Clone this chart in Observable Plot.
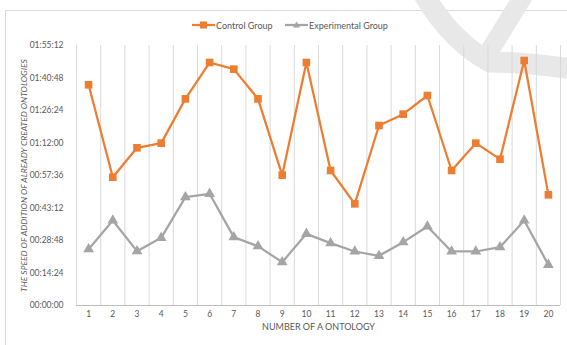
<!DOCTYPE html>
<html><head><meta charset="utf-8">
<script src="https://cdn.jsdelivr.net/npm/d3@7"></script>
<script src="https://cdn.jsdelivr.net/npm/@observablehq/plot@0.6"></script>
<style>
body{margin:0;background:#fff;}
#wrap{position:relative;width:567px;height:345px;overflow:hidden;font-family:Lato,sans-serif;}
#frame{position:absolute;left:5px;top:10px;width:700px;height:500px;border:1px solid #d9d9d9;box-sizing:border-box;}
#wm{position:absolute;left:0;top:0;}
#chart{position:absolute;left:0;top:0;}
.leg{position:absolute;top:19px;height:12px;display:flex;align-items:center;font-size:9px;color:#595959;white-space:nowrap;}
.leg svg{margin-right:1px;}
</style></head>
<body>
<div id="wrap">
  <div id="frame"></div>
  <svg id="wm" width="567" height="345">
    <g fill="none" stroke="#e8e8e8" stroke-linecap="butt">
      <path d="M424,-5 Q452,42 490,62 Q525,62 580,70" stroke-width="21"/>
      <path d="M524,-5 L484,60" stroke-width="19"/>
    </g>
  </svg>
  <div id="chart"></div>
  <div id="legend"></div>
</div>
<script>
// Categories: number of an ontology
const ontology = [1,2,3,4,5,6,7,8,9,10,11,12,13,14,15,16,17,18,19,20];
// Speed of addition (seconds)
const controlGroup = [5867,3411,4192,4316,5494,6460,6283,5494,3465,6460,3589,2703,4785,5087,5583,3589,4316,3890,6513,2942];
const experimentalGroup = [1498,2260,1445,1799,2880,2969,1817,1577,1152,1905,1657,1436,1320,1684,2100,1436,1436,1551,2260,1081];
// Y tick values (seconds) -> 00:00:00 ... 01:55:12
const yTicks = [0,864,1728,2592,3456,4320,5184,6048,6912];
const seriesNames = ["Control Group","Experimental Group"];
const yTitle = "THE SPEED OF ADDITION OF ALREADY CREATED ONTOLOGIES";
const xTitle = "NUMBER OF A ONTOLOGY";

const ORANGE = "#ed7d31", GRAY = "#a5a5a5", TXT = "#595959";
const pad = n => String(n).padStart(2,"0");
const fmt = s => `${pad(Math.floor(s/3600))}:${pad(Math.floor(s%3600/60))}:${pad(s%60)}`;

const rows = ontology.map((o,i)=>({o, c: controlGroup[i], e: experimentalGroup[i]}));
const bounds = d3.range(0.5, ontology.length + 1, 1);

const chart = Plot.plot({
  width: 567, height: 345,
  marginTop: 45, marginBottom: 40, marginLeft: 76, marginRight: 7,
  style: {background: "transparent", fontFamily: "Lato, sans-serif", overflow: "visible"},
  x: {type: "linear", domain: [0.5, ontology.length + 0.5], axis: null},
  y: {domain: [0, yTicks[yTicks.length-1]], axis: null},
  marks: [
    Plot.ruleX(bounds, {stroke: "#d9d9d9", strokeWidth: 1}),
    Plot.ruleY([0], {stroke: "#bfbfbf", strokeWidth: 1}),
    Plot.text(yTicks, {y: d=>d, frameAnchor: "left", dx: -13, textAnchor: "end", text: fmt, fill: TXT, fontSize: 8.5}),
    Plot.text(ontology, {x: d=>d, frameAnchor: "bottom", dy: 11, text: d=>String(d), fill: TXT, fontSize: 8.5}),
    Plot.text([yTitle], {frameAnchor: "left", dx: -52, rotate: -90, textAnchor: "middle", text: d=>d, fill: TXT, fontSize: 8.5, fontStyle: "italic"}),
    Plot.text([xTitle], {frameAnchor: "bottom", dy: 24, text: d=>d, fill: TXT, fontSize: 9}),
    Plot.line(rows, {x: "o", y: "e", stroke: GRAY, strokeWidth: 2.25}),
    Plot.dot(rows, {x: "o", y: "e", symbol: "triangle", r: 4, fill: GRAY, stroke: null}),
    Plot.line(rows, {x: "o", y: "c", stroke: ORANGE, strokeWidth: 2.25}),
    Plot.dot(rows, {x: "o", y: "c", symbol: "square", r: 4.3, fill: ORANGE, stroke: null})
  ]
});
document.getElementById("chart").appendChild(chart);

// Legend
const legend = document.getElementById("legend");
const legX = [192, 285];
const legColors = [ORANGE, GRAY];
seriesNames.forEach((name, i) => {
  const item = document.createElement("div");
  item.className = "leg";
  item.style.left = legX[i] + "px";
  const marker = i === 0
    ? `<rect x="8" y="2.5" width="7" height="7" fill="${legColors[i]}"/>`
    : `<path d="M11.5,2.5 L15,8.5 L8,8.5 Z" fill="${legColors[i]}"/>`;
  item.innerHTML = `<svg width="23" height="12"><line x1="0" x2="23" y1="6" y2="6" stroke="${legColors[i]}" stroke-width="2.25"/>${marker}</svg><span>${name}</span>`;
  legend.appendChild(item);
});
</script>
</body></html>
